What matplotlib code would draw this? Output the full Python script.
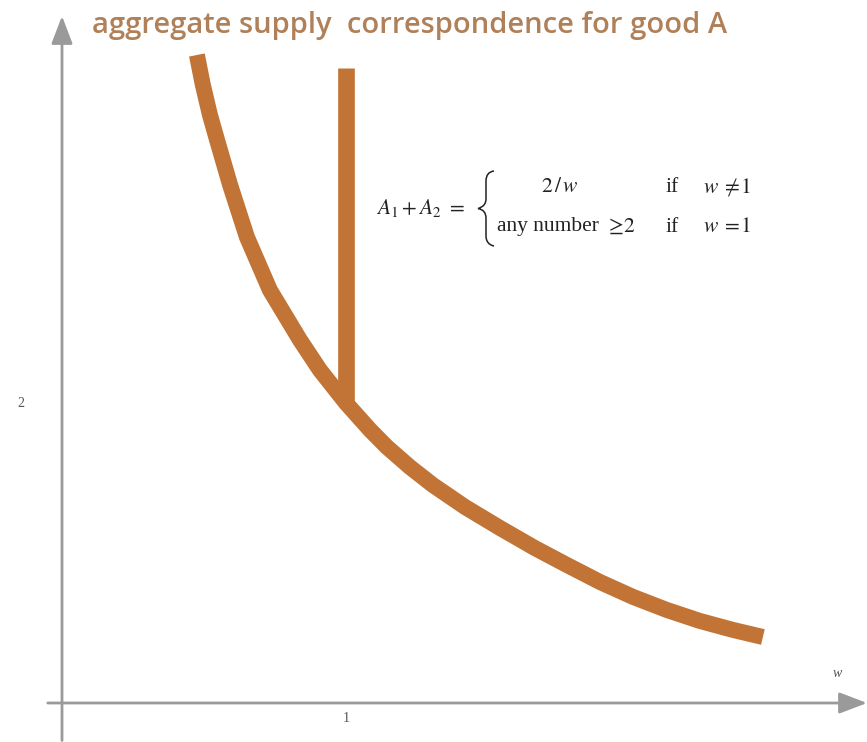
import matplotlib
matplotlib.use("Agg")
import matplotlib.pyplot as plt
from matplotlib.path import Path
from matplotlib.patches import PathPatch

plt.rcParams["mathtext.fontset"] = "stix"

# Aggregate supply of good A as a function of the price ratio w
w_curve = [0.475, 0.496, 0.521, 0.546, 0.592, 0.651, 0.732, 0.838, 0.908, 1.0,
           1.085, 1.144, 1.225, 1.306, 1.419, 1.542, 1.665, 1.778, 1.894, 2.011,
           2.130, 2.246, 2.363, 2.468]
a_curve = [4.32, 4.12, 3.92, 3.753, 3.453, 3.107, 2.753, 2.42, 2.22, 2.0,
           1.82, 1.707, 1.573, 1.453, 1.307, 1.167, 1.033, 0.92, 0.807, 0.707,
           0.62, 0.547, 0.487, 0.44]

# Vertical part of the correspondence at w = 1
w_vert = [1.0, 1.0]
a_vert = [2.0, 4.233]

x_ticks = [1]
x_tick_labels = ["1"]
y_ticks = [2]
y_tick_labels = ["2"]

title = "aggregate supply  correspondence for good A"

BROWN = "#C17435"
AXIS_GRAY = "#9a9a9a"
TEXT_GRAY = "#555555"
INK = "#222222"

W, H = 867, 742
fig = plt.figure(figsize=(W / 100, H / 100), dpi=100)
ax = fig.add_axes([0, 0, 1, 1])
ax.set_xlim(-0.2183, 2.8345)
ax.set_ylim(-0.26, 4.6867)
ax.axis("off")

# axes with arrow heads
arrow = dict(arrowstyle="-|>,head_length=1.7,head_width=0.65",
             color=AXIS_GRAY, lw=2, shrinkA=0, shrinkB=0)
ax.annotate("", xy=(2.8345, 0.0), xytext=(-0.05, 0.0), arrowprops=arrow)
ax.annotate("", xy=(0.0, 4.58), xytext=(0.0, -0.25), arrowprops=arrow)

# supply curve and vertical segment
ax.plot(w_curve, a_curve, color=BROWN, lw=11.5, solid_capstyle="butt",
        solid_joinstyle="round")
ax.plot(w_vert, a_vert, color=BROWN, lw=12, solid_capstyle="butt")

# tick labels
for xt, lab in zip(x_ticks, x_tick_labels):
    ax.text(xt, -0.1, lab, ha="center", va="center", fontsize=10,
            family="Liberation Serif", color=TEXT_GRAY)
for yt, lab in zip(y_ticks, y_tick_labels):
    ax.text(-0.145, yt, lab, ha="center", va="center", fontsize=10,
            family="Liberation Serif", color=TEXT_GRAY)
ax.text(2.73, 0.2, "w", ha="center", va="center", fontsize=10,
        family="Liberation Serif", style="italic", color=TEXT_GRAY)

# title
fig.text(92 / W, 1 - 25 / H, title, ha="left", va="center", fontsize=21,
         family="Open Sans", weight="semibold", color="#B08058")


def fx(px):
    return px / W


def fy(py):
    return 1 - py / H


def T(px, py, s, size=15.5, **kw):
    fig.text(fx(px), fy(py), s, family="Liberation Serif", fontsize=size,
             color=INK, va="center", **kw)


# piecewise formula
T(376, 208, r"$A_1 + A_2\ =$", ha="left")
T(560, 187, r"$2\,/\,w$", ha="center")
T(666, 187, "if", ha="left")
T(703, 187, r"$w\;\neq\! 1$", ha="left")
T(497, 227, "any number", ha="left")
T(605, 227, r"$\geq\! 2$", ha="left")
T(666, 227, "if", ha="left")
T(703, 227, r"$w\;=\! 1$", ha="left")

# left brace of the case distinction
bx_out, bx_mid, bx_tip = 494, 486, 478
brace_pts = [
    (bx_out, 171), (bx_mid, 172), (bx_mid, 181),
    (bx_mid, 199),
    (bx_mid, 207), (bx_tip, 208.5), (bx_tip, 208.5),
    (bx_mid, 210), (bx_mid, 218),
    (bx_mid, 236),
    (bx_mid, 245), (bx_out, 246), (bx_out, 246),
]
codes = [Path.MOVETO, Path.CURVE3, Path.CURVE3,
         Path.LINETO,
         Path.CURVE4, Path.CURVE4, Path.CURVE4,
         Path.CURVE3, Path.CURVE3,
         Path.LINETO,
         Path.CURVE4, Path.CURVE4, Path.CURVE4]
brace = Path([(fx(x), fy(y)) for x, y in brace_pts], codes)
fig.add_artist(PathPatch(brace, transform=fig.transFigure, fill=False,
                         edgecolor=INK, lw=1.1))

fig.savefig("out.png", dpi=100, facecolor="white")
